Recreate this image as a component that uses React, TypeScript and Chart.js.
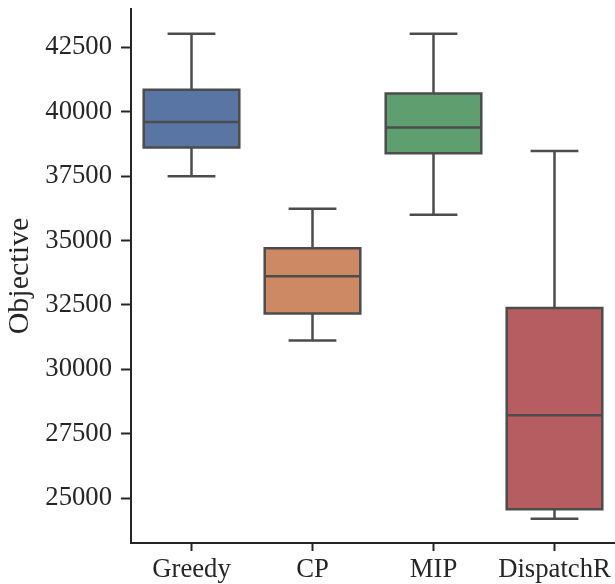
import React, { useEffect, useRef } from 'react';
import { Chart, registerables } from 'chart.js';

Chart.register(...registerables);

// ---- data ----
const categories = ['Greedy', 'CP', 'MIP', 'DispatchR'];
const whiskerLow = [37500, 31120, 36000, 24200];
const q1 = [38610, 32170, 38390, 24570];
const median = [39600, 33620, 39390, 28220];
const q3 = [40860, 34700, 40710, 32380];
const whiskerHigh = [43030, 36240, 43030, 38480];
const yTicks = [25000, 27500, 30000, 32500, 35000, 37500, 40000, 42500];
const yLabel = 'Objective';

// ---- style ----
const boxColors = ['#5875a4', '#cc8963', '#5f9e6e', '#b55d60'];
const lineColor = '#4c4c4c';
const axisColor = '#262626';
const fontFamily = '"Liberation Serif", "Times New Roman", serif';
const fontSize = 26.7;
const titleFontSize = 30;

const boxPlugin = {
  id: 'boxWhiskers',
  afterDatasetsDraw(chart: any) {
    const ctx = chart.ctx;
    const meta = chart.getDatasetMeta(0);
    const ys = chart.scales.y;
    ctx.save();
    ctx.strokeStyle = lineColor;
    ctx.lineWidth = 2.5;
    ctx.lineCap = 'butt';
    meta.data.forEach((bar: any, i: number) => {
      const { x, width } = bar.getProps(['x', 'width'], true);
      const left = x - width / 2;
      const right = x + width / 2;
      const yQ1 = ys.getPixelForValue(q1[i]);
      const yQ3 = ys.getPixelForValue(q3[i]);
      const yMed = ys.getPixelForValue(median[i]);
      const yLo = ys.getPixelForValue(whiskerLow[i]);
      const yHi = ys.getPixelForValue(whiskerHigh[i]);
      const capHalf = width / 4;
      ctx.beginPath();
      ctx.rect(left, yQ3, width, yQ1 - yQ3);
      ctx.moveTo(left, yMed);
      ctx.lineTo(right, yMed);
      ctx.moveTo(x, yQ3);
      ctx.lineTo(x, yHi);
      ctx.moveTo(x, yQ1);
      ctx.lineTo(x, yLo);
      ctx.moveTo(x - capHalf, yHi);
      ctx.lineTo(x + capHalf, yHi);
      ctx.moveTo(x - capHalf, yLo);
      ctx.lineTo(x + capHalf, yLo);
      ctx.stroke();
    });
    ctx.restore();
  },
};

export default function App() {
  const canvasRef = useRef<HTMLCanvasElement | null>(null);

  useEffect(() => {
    if (!canvasRef.current) return;
    const font = { family: fontFamily, size: fontSize };
    const chart = new Chart(canvasRef.current, {
      type: 'bar',
      data: {
        labels: categories,
        datasets: [
          {
            data: categories.map((_, i) => [q1[i], q3[i]]) as any,
            backgroundColor: boxColors,
            borderWidth: 0,
            barPercentage: 0.79,
            categoryPercentage: 1,
          },
        ],
      },
      options: {
        animation: false,
        responsive: false,
        devicePixelRatio: 1,
        layout: { padding: { top: 9, right: 0, left: 0, bottom: 0 } },
        plugins: {
          legend: { display: false },
          tooltip: { enabled: false },
          title: { display: false },
        },
        scales: {
          x: {
            type: 'category',
            offset: true,
            grid: {
              display: true,
              offset: false,
              drawOnChartArea: false,
              drawTicks: true,
              tickLength: 8,
              tickWidth: 2,
              tickColor: axisColor,
            },
            border: { display: true, color: axisColor, width: 2 },
            ticks: { font, color: axisColor, padding: 3, maxRotation: 0, autoSkip: false },
            afterFit: (s: any) => {
              s.height = 41;
              s.paddingLeft = 0;
              s.paddingRight = 0;
            },
          },
          y: {
            type: 'linear',
            min: 23258,
            max: 43992,
            grid: {
              display: true,
              drawOnChartArea: false,
              drawTicks: true,
              tickLength: 10,
              tickWidth: 2,
              tickColor: axisColor,
            },
            border: { display: true, color: axisColor, width: 2 },
            ticks: {
              font,
              color: axisColor,
              padding: 9,
              callback: (v: any) => String(v),
            },
            afterBuildTicks: (s: any) => {
              s.ticks = yTicks.map((v) => ({ value: v }));
            },
            title: {
              display: true,
              text: yLabel,
              font: { family: fontFamily, size: titleFontSize },
              color: axisColor,
              padding: { top: 2.5, bottom: 0 },
            },
            afterFit: (s: any) => {
              s.width = 131;
              s.paddingTop = 0;
              s.paddingBottom = 0;
            },
          },
        },
      },
      plugins: [boxPlugin],
    });
    return () => chart.destroy();
  }, []);

  return (
    <div style={{ position: 'absolute', left: 0, top: 0, width: 615, height: 584, background: '#fff' }}>
      <canvas ref={canvasRef} width={615} height={584} />
    </div>
  );
}
